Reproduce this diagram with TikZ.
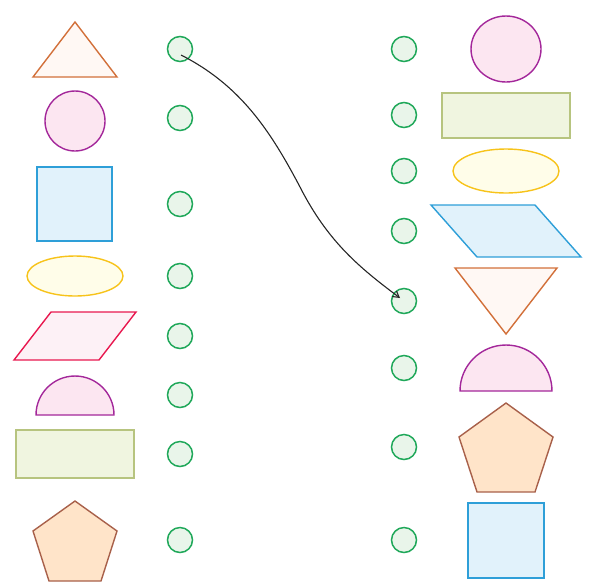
\documentclass[tikz,border=0pt]{standalone}
\usetikzlibrary{arrows.meta,calc}
\definecolor{orS}{HTML}{D2703A}\definecolor{orF}{HTML}{FFF8F4}
\definecolor{puS}{HTML}{A3279A}\definecolor{puF}{HTML}{FCE6F1}
\definecolor{blS}{HTML}{2E9FD8}\definecolor{blF}{HTML}{E1F2FB}
\definecolor{goS}{HTML}{F7C31A}\definecolor{goF}{HTML}{FFFDE9}
\definecolor{reS}{HTML}{E8184F}\definecolor{reF}{HTML}{FDF1F6}
\definecolor{olS}{HTML}{B7C47F}\definecolor{olF}{HTML}{F0F5E0}
\definecolor{brS}{HTML}{A8604A}\definecolor{brF}{HTML}{FFE4C9}
\definecolor{grS}{HTML}{20A85A}\definecolor{grF}{HTML}{E9F5EA}
\tikzset{
  dot/.style={circle,draw=grS,fill=grF,line width=1.5pt,minimum size=25pt,inner sep=0pt},
  shp/.style={line width=1.4pt,line join=miter},
  tri/.style={shp,draw=orS,fill=orF},
  pur/.style={shp,draw=puS,fill=puF},
  blu/.style={shp,draw=blS,fill=blF},
  gol/.style={shp,draw=goS,fill=goF},
  red/.style={shp,draw=reS,fill=reF},
  oli/.style={shp,draw=olS,fill=olF},
  bro/.style={shp,draw=brS,fill=brF},
  link/.style={draw=black!85,line width=1.1pt,-{Straight Barb[length=6pt,width=7pt]}}
}
\begin{document}
\begin{tikzpicture}[x=1pt,y=-1pt]
\useasboundingbox (0,0) rectangle (601,582);
% left shapes
\draw[tri] (75,22) -- (117,77) -- (33,77) -- cycle;
\draw[pur] (75,121) circle [radius=30];
\draw[blu] (37,167) rectangle (112,241);
\draw[gol] (75,276) ellipse [x radius=48, y radius=20];
\draw[red] (14,360) -- (51,312) -- (136,312) -- (99,360) -- cycle;
\draw[pur] (36,415) arc[start angle=180, end angle=360, radius=39] -- cycle;
\draw[oli] (16,430) rectangle (134,478);
\draw[bro] (75,501) -- (117,531) -- (101,581) -- (49,581) -- (33,531) -- cycle;
% right shapes
\draw[pur] (506,49) ellipse [x radius=35, y radius=33];
\draw[oli] (442,93) rectangle (570,138);
\draw[gol] (506,171) ellipse [x radius=53, y radius=22];
\draw[blu] (431,205) -- (535,205) -- (581,257) -- (477,257) -- cycle;
\draw[tri] (455,268) -- (557,268) -- (506,334) -- cycle;
\draw[pur] (460,391) arc[start angle=180, end angle=360, radius=46] -- cycle;
\draw[bro] (506,403) -- (553,437) -- (535,492) -- (477,492) -- (459,437) -- cycle;
\draw[blu] (468,503) rectangle (544,578);
% dots
\foreach \n/\y in {1/49,2/118,3/204,4/276,5/336,6/395,7/454,8/540}
  \node[dot] (l\n) at (180,\y) {};
\foreach \n/\y in {1/49,2/115,3/171,4/231,5/301,6/368,7/447,8/540}
  \node[dot] (r\n) at (404,\y) {};
% connector
\coordinate (s) at ($(l1.center)+(1,6)$);
\coordinate (m) at (300,187);
\coordinate (e) at ($(r5.center)+(-4,-3)$);
\draw[link] (s) .. controls (240,85) and (270,130) .. (m) .. controls (328,242) and (360,268) .. (e);
\end{tikzpicture}
\end{document}
